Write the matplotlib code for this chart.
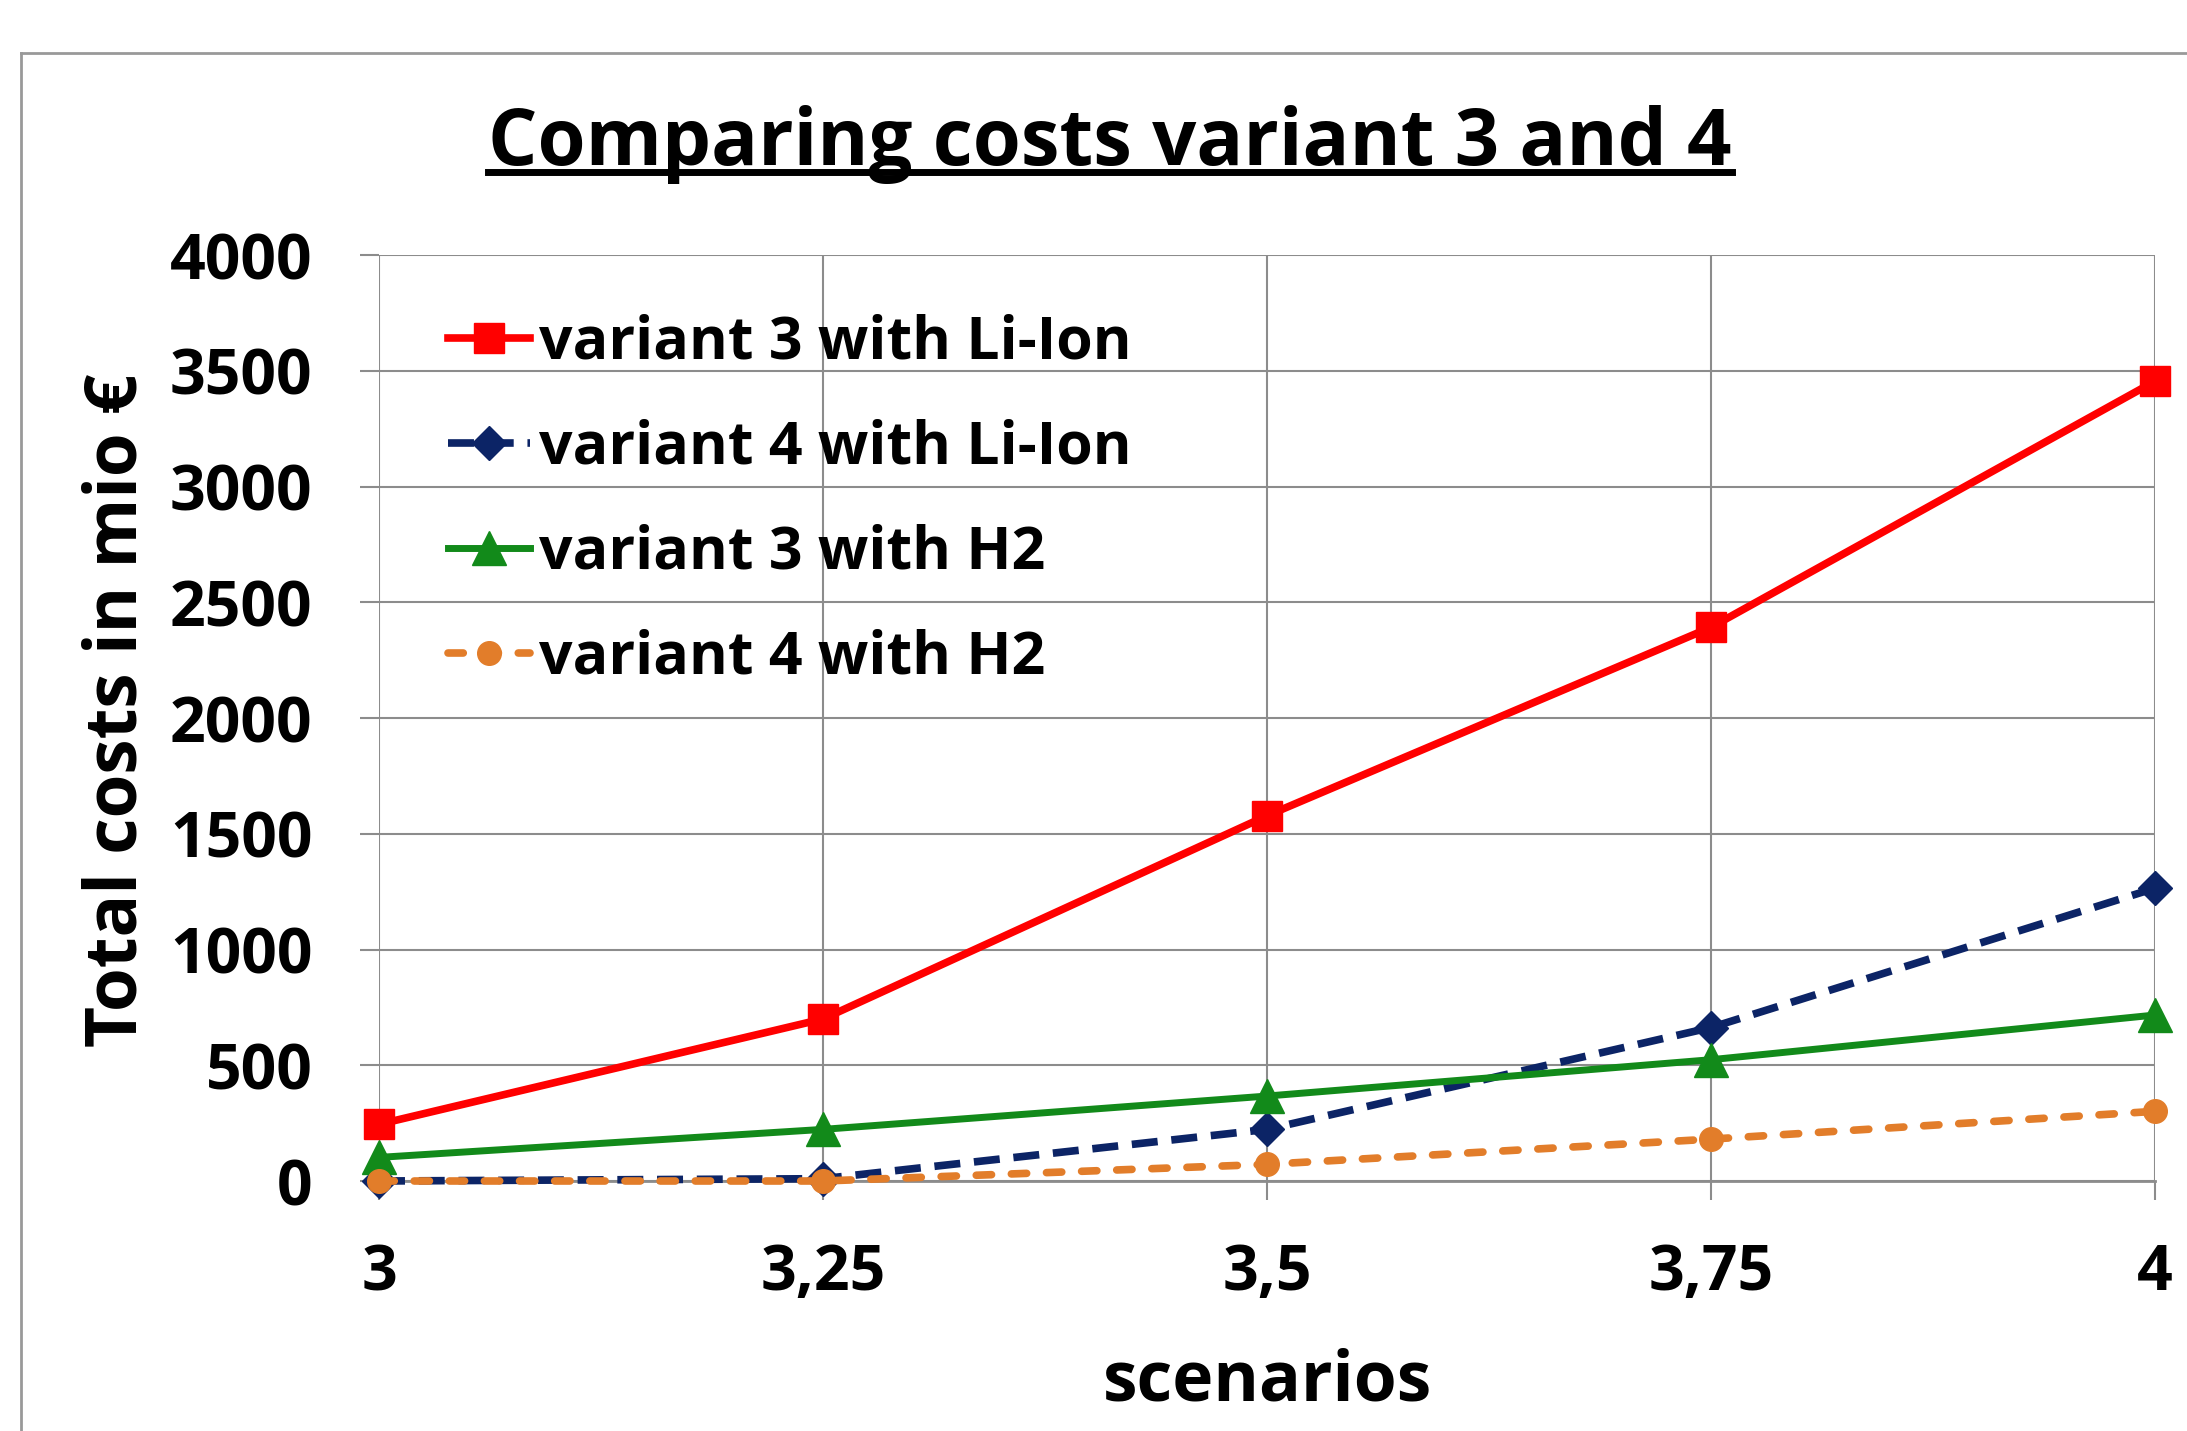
import matplotlib
matplotlib.use("Agg")
import matplotlib.pyplot as plt
from matplotlib.lines import Line2D

scenarios = [3.0, 3.25, 3.5, 3.75, 4.0]
x_tick_labels = ["3", "3,25", "3,5", "3,75", "4"]
y_ticks = [0, 500, 1000, 1500, 2000, 2500, 3000, 3500, 4000]

v3_liion = [245, 700, 1578, 2392, 3455]
v4_liion = [0, 10, 223, 663, 1265]
v3_h2 = [102, 223, 367, 524, 717]
v4_h2 = [0, 0, 72, 181, 301]

labels = ["variant 3 with Li-Ion", "variant 4 with Li-Ion",
          "variant 3 with H2", "variant 4 with H2"]

plt.rcParams['font.family'] = ['Open Sans', 'DejaVu Sans']
plt.rcParams['font.weight'] = 'bold'

fig = plt.figure(figsize=(21.87, 14.31), dpi=100)
ax = fig.add_axes([0.1733, 0.1747, 0.8121, 0.6471])

ax.plot(scenarios, v3_liion, color='#FF0000', lw=5.5, marker='s', ms=21,
        label=labels[0], clip_on=False, zorder=5)
ax.plot(scenarios, v4_liion, color='#0C2466', lw=5.5, ls=(0, (3.4, 1.8)),
        marker='D', ms=17, label=labels[1], clip_on=False, zorder=4)
ax.plot(scenarios, v3_h2, color='#128A1A', lw=5.0, marker='^', ms=24,
        label=labels[2], clip_on=False, zorder=4)
ax.plot(scenarios, v4_h2, color='#E27D2A', lw=5.5, ls=(0, (2.0, 2.6)),
        dash_capstyle='round', marker='o', ms=17, label=labels[3],
        clip_on=False, zorder=6)

ax.set_xlim(3, 4)
ax.set_ylim(0, 4000)
ax.set_xticks(scenarios)
ax.set_xticklabels(x_tick_labels)
ax.set_yticks(y_ticks)
ax.set_yticklabels([str(v) for v in y_ticks])
ax.grid(True, color='#8C8C8C', lw=1.5)
ax.set_axisbelow(True)
for s in ['top', 'right', 'left']:
    ax.spines[s].set_visible(False)
ax.spines['bottom'].set_color('#8C8C8C')
ax.spines['bottom'].set_linewidth(2)
ax.tick_params(axis='both', direction='out', length=14, width=1.5,
               color='#8C8C8C', labelsize=45)
ax.tick_params(axis='y', pad=34)
ax.tick_params(axis='x', pad=30)
for t in ax.get_xticklabels() + ax.get_yticklabels():
    t.set_fontweight('bold')

ax.set_ylabel("Total costs in mio €", fontsize=51, fontweight='bold')
ax.yaxis.set_label_coords(-0.127, 0.508)
ax.set_xlabel("scenarios", fontsize=50, fontweight='bold')
ax.xaxis.set_label_coords(0.5, -0.180)

leg = ax.legend(loc='upper left', bbox_to_anchor=(0.039, 0.937), frameon=False,
                handlelength=1.38, handletextpad=0.15, borderpad=0.0,
                borderaxespad=0.0, labelspacing=0.78,
                prop={'weight': 'bold', 'size': 42.5})

# title with underline
title = fig.text(0.5076, 0.899, "Comparing costs variant 3 and 4", ha='center',
                 va='center', fontsize=56, fontweight='bold')
fig.canvas.draw()
bb = title.get_window_extent(renderer=fig.canvas.get_renderer())
W, H = fig.bbox.width, fig.bbox.height
uy = (1431 - 172) / 1431
fig.add_artist(Line2D([bb.x0 / W, bb.x1 / W], [uy, uy], color='black', lw=5,
                      transform=fig.transFigure))

# outer chart border (top and left)
bx, by = 21 / 2187, (1431 - 53) / 1431
fig.add_artist(Line2D([bx, 1.0], [by, by], color='#999999', lw=2,
                      transform=fig.transFigure))
fig.add_artist(Line2D([bx, bx], [by, 0.0], color='#999999', lw=2,
                      transform=fig.transFigure))

fig.savefig("out.png", dpi=100)
